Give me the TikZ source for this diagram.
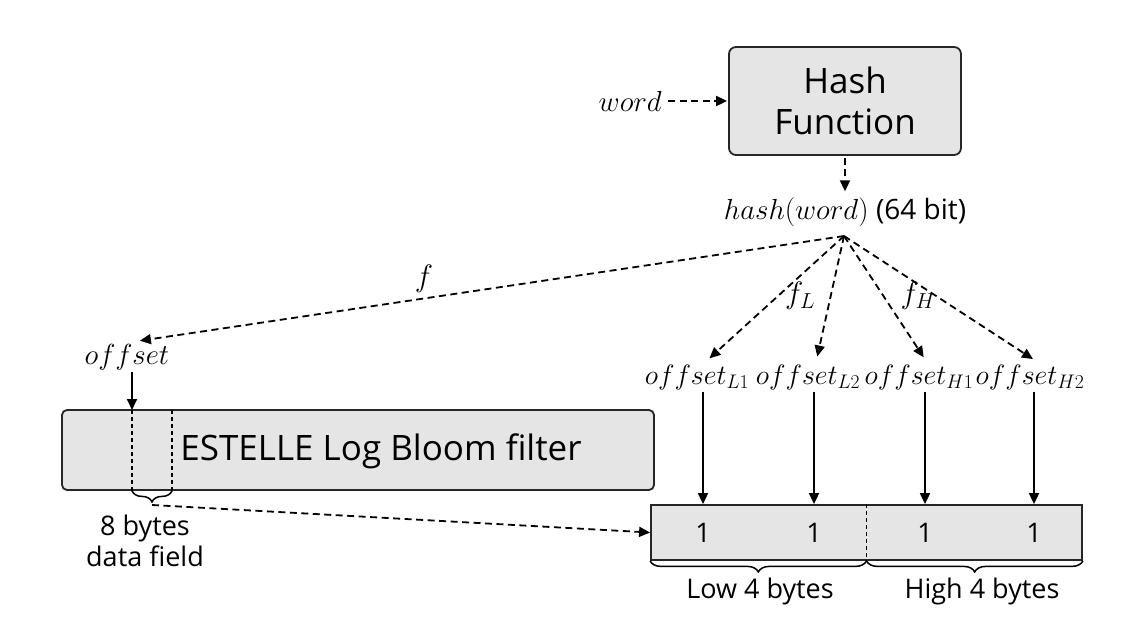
\RequirePackage{fix-cm}
\documentclass[tikz,border=0pt]{standalone}
\usepackage{fontspec}
\setmainfont{Open Sans}
\usepackage{amsmath}
\usepackage{tikz}
\usetikzlibrary{positioning}
\usetikzlibrary{calc,arrows.meta,decorations.pathreplacing}

\tikzset{
  box/.style={draw=black!85, fill=black!10, line width=1.8pt, rounded corners=7pt},
  dasharrow/.style={-{Triangle[length=11pt,width=10pt]}, line width=1.8pt, dash pattern=on 7pt off 4.5pt},
  solidarrow/.style={-{Triangle[length=11pt,width=10pt]}, line width=1.8pt},
  divider/.style={line width=1.5pt, dash pattern=on 4pt off 3pt},
  brace/.style={decorate, decoration={brace, mirror, amplitude=11pt}, line width=1.5pt},
  hfont/.style={font=\fontsize{35}{41}\selectfont},
  bfont/.style={font=\fontsize{35}{40}\selectfont},
  tfont/.style={font=\fontsize{27}{31}\selectfont},
  mfont/.style={font=\fontsize{29}{33}\selectfont, inner sep=2pt},
  ofont/.style={font=\fontsize{28}{32}\selectfont, inner sep=2pt},
}

\begin{document}
\begin{tikzpicture}[x=1pt, y=-1pt]
        \useasboundingbox (0,0) rectangle (1134,628);

        % Define the nodes
        \node[box, hfont, minimum width=232, minimum height=108, align=center] (hash) at (845,101) {Hash\\Function};
        \node[mfont, anchor=east] (word) at (664,101) {$word$};
        \node[mfont, inner sep=5pt] (hw) at (845,212) {$hash(word)$ \fontsize{28}{32}\selectfont(64 bit)};
        \coordinate (hub) at (844,236);

        \node[mfont] (off) at (127,357) {$offset$};
        \node[ofont] (oL1) at (697,377) {$offset_{L1}$};
        \node[ofont] (oL2) at (808,377) {$offset_{L2}$};
        \node[ofont] (oH1) at (919,377) {$offset_{H1}$};
        \node[ofont] (oH2) at (1030,377) {$offset_{H2}$};

        \node[mfont, font=\fontsize{31}{35}\selectfont] (fL) at (800,296) {$f_L$};
        \node[mfont, font=\fontsize{31}{35}\selectfont] (fH) at (918,296) {$f_H$};

        % Bloom filter
        \node[box, rounded corners=5pt, minimum width=592, minimum height=80] (bloom) at (358,450) {};
        \node[bfont] (bname) at (381,451) {ESTELLE Log Bloom filter};
        \coordinate (fl) at (132,410);
        \coordinate (fr) at (172,410);
        \coordinate (tip) at (152,505);
        \node[tfont, align=center] (field) at (145,541) {8 bytes\\data field};

        % Data field
        \node[draw=black!85, fill=black!10, line width=1.8pt, minimum width=431, minimum height=55] (bits) at (866.5,532.5) {};
        \node[tfont] (b1) at (703,533) {1};
        \node[tfont] (b2) at (814,533) {1};
        \node[tfont] (b3) at (925,533) {1};
        \node[tfont] (b4) at (1034,533) {1};
        \node[tfont] (low) at (760,591) {Low 4 bytes};
        \node[tfont] (high) at (982,591) {High 4 bytes};

        % Draw the links
        \draw[dasharrow, shorten <=4pt, shorten >=1pt] (word) -- (hash);
        \draw[dasharrow, shorten <=2pt, shorten >=1pt] (hash) -- (hw);
        \draw[dasharrow, shorten >=8pt] (hub) -- node[mfont, font=\fontsize{31}{35}\selectfont, pos=0.59, above=3pt] {$f$} (off.north -| fl);
        \foreach \n in {oL1,oL2,oH1,oH2}
            \draw[dasharrow, shorten >=6pt] (hub) -- ($(\n.north)+(8,0)$);

        \draw[solidarrow] (off.south -| fl) -- (fl);
        \draw[divider] (fl) -- (fl |- bloom.south);
        \draw[divider] (fr) -- (fr |- bloom.south);
        \draw[brace] (fl |- bloom.south) -- (fr |- bloom.south);
        \draw[dasharrow] (tip) -- (bits.west);

        \foreach \n/\o in {b1/oL1,b2/oL2,b3/oH1,b4/oH2}
            \draw[solidarrow] (\o.south -| \n) -- (\n |- bits.north);
        \draw[divider] (bits.north) -- (bits.south);
        \draw[brace] (bits.south west) -- (bits.south);
        \draw[brace] (bits.south) -- (bits.south east);
    \end{tikzpicture}
\end{document}
